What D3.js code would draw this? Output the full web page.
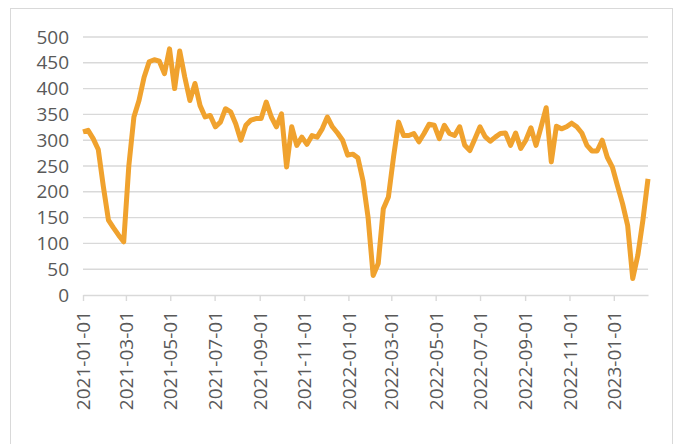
<!DOCTYPE html>
<html>
<head>
<meta charset="utf-8">
<script src="https://cdn.jsdelivr.net/npm/d3@7"></script>
<style>
  body { margin: 0; background: #fff; }
  text { font-family: "Open Sans", sans-serif; fill: #595959; }
</style>
</head>
<body>
<script>
  var width = 682, height = 444;

  // weekly series starting 2021-01-01
  var startDate = "2021-01-01";
  var values = [
    316, 319, 303, 282, 210, 145, 130, 116, 103, 250,
    345, 377, 422, 452, 456, 453, 429, 477, 400, 473,
    422, 377, 410, 367, 345, 348, 326, 335, 361, 355,
    332, 300, 329, 339, 342, 342, 374, 345, 326, 351,
    248, 326, 290, 306, 292, 309, 306, 322, 345, 326,
    314, 300, 271, 273, 266, 222, 151, 38, 61, 167,
    190, 267, 335, 309, 309, 313, 297, 313, 331, 329,
    303, 329, 313, 309, 326, 290, 280, 303, 326, 307,
    298, 306, 313, 314, 290, 314, 284, 300, 324, 290,
    326, 363, 258, 327, 322, 326, 333, 326, 314, 290,
    279, 279, 300, 267, 248, 212, 177, 135, 32, 77,
    145, 225
  ];
  var yTicks = [0, 50, 100, 150, 200, 250, 300, 350, 400, 450, 500];
  var xTickLabels = [
    "2021-01-01", "2021-03-01", "2021-05-01", "2021-07-01", "2021-09-01",
    "2021-11-01", "2022-01-01", "2022-03-01", "2022-05-01", "2022-07-01",
    "2022-09-01", "2022-11-01", "2023-01-01"
  ];

  var parse = d3.timeParse("%Y-%m-%d");
  var t0 = parse(startDate);
  var data = values.map(function(v, i) {
    return { date: d3.timeDay.offset(t0, 7 * i), value: v };
  });

  var plotL = 83, plotR = 648, plotT = 37, plotB = 295;

  var svg = d3.select("body").append("svg")
    .attr("width", width)
    .attr("height", height);

  // outer frame
  svg.append("rect")
    .attr("x", 10.5).attr("y", 8.5)
    .attr("width", 662).attr("height", 460)
    .attr("fill", "none")
    .attr("stroke", "#d9d9d9")
    .attr("stroke-width", 1);

  var x = d3.scaleTime()
    .domain([data[0].date, data[data.length - 1].date])
    .range([plotL, plotR]);

  var y = d3.scaleLinear()
    .domain([0, 500])
    .range([plotB, plotT]);

  // gridlines
  svg.append("g")
    .selectAll("line")
    .data(yTicks.filter(function(d) { return d > 0; }))
    .enter().append("line")
    .attr("x1", plotL).attr("x2", plotR)
    .attr("y1", function(d) { return y(d); })
    .attr("y2", function(d) { return y(d); })
    .attr("stroke", "#d9d9d9")
    .attr("stroke-width", 1.4);

  // y axis labels
  var yAxis = svg.append("g")
    .attr("transform", "translate(" + plotL + ",0)")
    .call(d3.axisLeft(y).tickValues(yTicks).tickSize(0).tickPadding(14));
  yAxis.select(".domain").remove();
  yAxis.selectAll("text")
    .style("font-size", "19px")
    .style("font-family", "'Open Sans', sans-serif")
    .attr("fill", "#595959");

  // x axis
  var xAxis = svg.append("g")
    .attr("transform", "translate(0," + plotB + ")")
    .call(d3.axisBottom(x)
      .tickValues(xTickLabels.map(parse))
      .tickFormat(d3.timeFormat("%Y-%m-%d"))
      .tickSize(6)
      .tickSizeOuter(0));
  xAxis.select(".domain")
    .attr("stroke", "#d9d9d9")
    .attr("stroke-width", 1.4);
  xAxis.selectAll(".tick line")
    .attr("stroke", "#d9d9d9")
    .attr("stroke-width", 1.4);
  xAxis.selectAll("text")
    .style("font-size", "19px")
    .style("font-family", "'Open Sans', sans-serif")
    .attr("fill", "#595959")
    .attr("transform", "rotate(-90)")
    .attr("x", -16)
    .attr("y", 0)
    .attr("dy", "0.35em")
    .style("text-anchor", "end");

  // the series
  var line = d3.line()
    .x(function(d) { return x(d.date); })
    .y(function(d) { return y(d.value); });

  svg.append("path")
    .datum(data)
    .attr("fill", "none")
    .attr("stroke", "#f0a22e")
    .attr("stroke-width", 5)
    .attr("stroke-linejoin", "round")
    .attr("d", line);
</script>
</body>
</html>
